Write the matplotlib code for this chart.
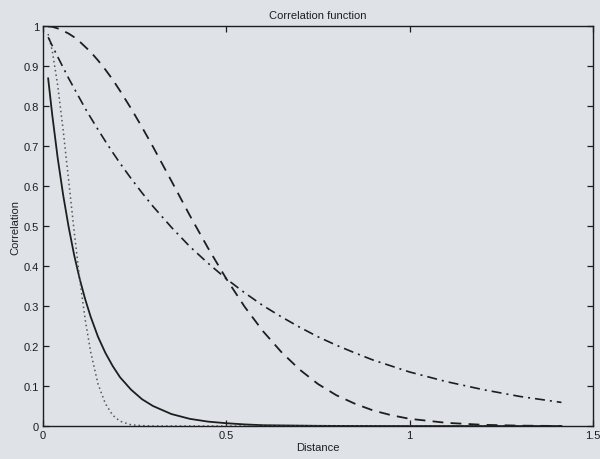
import matplotlib
matplotlib.use("Agg")
import matplotlib.pyplot as plt

plt.rcParams['font.family'] = ['Liberation Sans', 'DejaVu Sans']

# distance samples
dist = [0.014, 0.025, 0.04, 0.055, 0.07, 0.085, 0.1, 0.115, 0.13, 0.15,
        0.17, 0.19, 0.21, 0.24, 0.27, 0.3, 0.35, 0.4, 0.45, 0.5,
        0.55, 0.6, 0.65, 0.7, 0.75, 0.8, 0.85, 0.9, 0.95, 1.0,
        1.1, 1.2, 1.3, 1.414]

# solid curve (fast exponential)
solid = [0.869, 0.779, 0.670, 0.577, 0.497, 0.427, 0.368, 0.317, 0.273, 0.223,
         0.183, 0.150, 0.122, 0.091, 0.067, 0.050, 0.030, 0.018, 0.011, 0.007,
         0.004, 0.002, 0.0015, 0.001, 0.0005, 0.0003, 0.0002, 0.0001, 0.0, 0.0,
         0.0, 0.0, 0.0, 0.0]

# dotted curve (fast gaussian)
dotted = [0.980, 0.939, 0.852, 0.739, 0.613, 0.486, 0.368, 0.266, 0.185, 0.105,
          0.056, 0.027, 0.012, 0.003, 0.001, 0.0, 0.0, 0.0, 0.0, 0.0,
          0.0, 0.0, 0.0, 0.0, 0.0, 0.0, 0.0, 0.0, 0.0, 0.0,
          0.0, 0.0, 0.0, 0.0]

# dashed curve (slow gaussian)
dashed = [0.999, 0.998, 0.994, 0.988, 0.981, 0.972, 0.961, 0.948, 0.935, 0.914,
          0.891, 0.866, 0.838, 0.794, 0.747, 0.698, 0.613, 0.527, 0.445, 0.368,
          0.298, 0.237, 0.185, 0.141, 0.105, 0.077, 0.056, 0.039, 0.027, 0.018,
          0.008, 0.003, 0.001, 0.0]

# dash-dot curve (slow exponential)
dashdot = [0.972, 0.951, 0.923, 0.896, 0.869, 0.844, 0.819, 0.794, 0.771, 0.741,
           0.712, 0.684, 0.657, 0.619, 0.583, 0.549, 0.497, 0.449, 0.407, 0.368,
           0.333, 0.301, 0.273, 0.247, 0.223, 0.202, 0.183, 0.165, 0.150, 0.135,
           0.111, 0.091, 0.074, 0.059]

xticks = [0, 0.5, 1, 1.5]
xtick_labels = ['0', '0.5', '1', '1.5']
yticks = [0, 0.1, 0.2, 0.3, 0.4, 0.5, 0.6, 0.7, 0.8, 0.9, 1]
ytick_labels = ['0', '0.1', '0.2', '0.3', '0.4', '0.5', '0.6', '0.7', '0.8', '0.9', '1']

bg = '#dfe2e7'
ink = '#1e1e1e'

fig = plt.figure(figsize=(6, 4.6), dpi=100, facecolor=bg)
ax = fig.add_axes([0.0717, 0.0717, 0.9166, 0.8696], facecolor=bg)

ax.plot(dist, solid, color=ink, lw=1.3, ls='-')
ax.plot(dist, dotted, color='#555555', lw=1.1, ls=(0, (1, 2)))
ax.plot(dist, dashed, color=ink, lw=1.3, ls=(0, (6, 4)))
ax.plot(dist, dashdot, color=ink, lw=1.2, ls=(0, (6, 3, 1.2, 3)))

ax.set_xlim(0, 1.5)
ax.set_ylim(0, 1)
ax.set_xticks(xticks)
ax.set_xticklabels(xtick_labels)
ax.set_yticks(yticks)
ax.set_yticklabels(ytick_labels)
ax.tick_params(direction='in', top=True, right=True, length=4, width=0.9,
               labelsize=8, colors=ink, pad=3)
for s in ax.spines.values():
    s.set_linewidth(1.0)
    s.set_color(ink)

ax.set_title('Correlation function', fontsize=8, color=ink, pad=6)
ax.set_xlabel('Distance', fontsize=8, color=ink, labelpad=1)
ax.set_ylabel('Correlation', fontsize=8, color=ink, labelpad=2)

fig.savefig('out.png', dpi=100, facecolor=bg)
